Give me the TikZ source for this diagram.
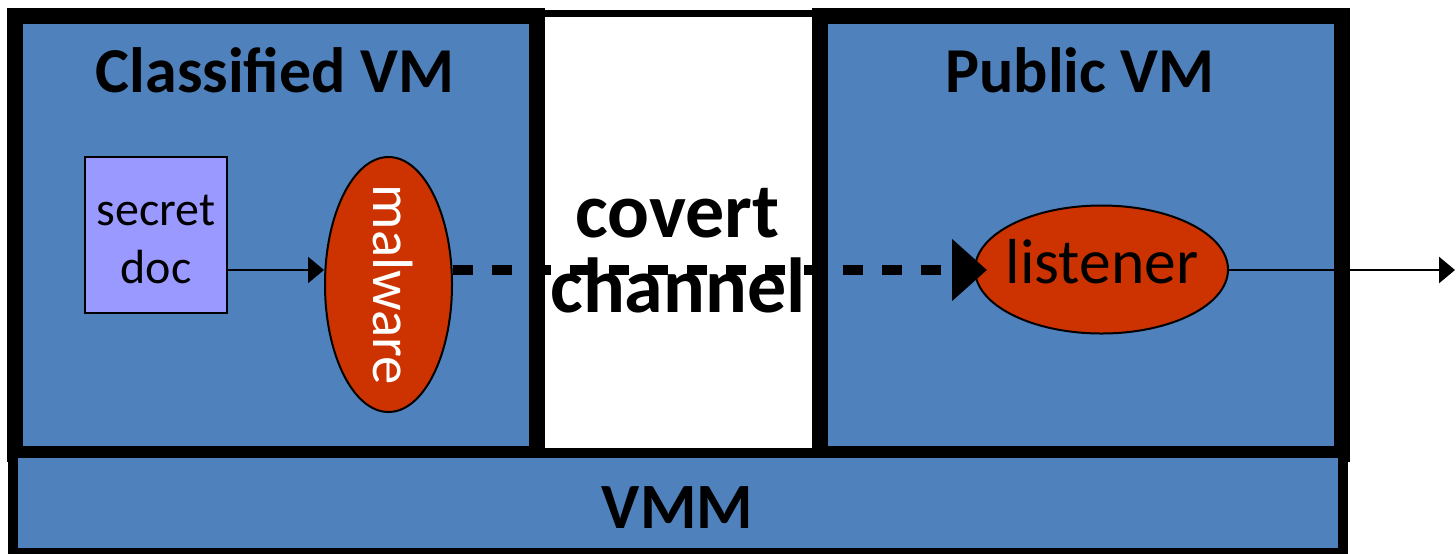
\documentclass[tikz,border=0pt]{standalone}
\usepackage{fontspec}
\setmainfont{Carlito}
\usetikzlibrary{arrows.meta,shapes.geometric}
\definecolor{vmblue}{HTML}{4F81BD}
\definecolor{procred}{HTML}{CC3300}
\definecolor{docviolet}{HTML}{9999FF}
\tikzset{
  vmframe/.style={draw=black, fill=vmblue, line width=8pt, minimum width=261pt,
    minimum height=219pt, inner sep=0pt},
  bigtitle/.style={font=\fontsize{32}{38}\selectfont\bfseries, inner sep=0pt, anchor=base},
  proc/.style={ellipse, draw=black, line width=1pt, fill=procred, inner sep=0pt},
  plainlabel/.style={inner sep=0pt, anchor=base},
  thinarrow/.style={line width=1.3pt, -{Triangle[length=8pt,width=13pt]}},
  covertarrow/.style={line width=5pt, dash pattern=on 10pt off 9.5pt,
    -{Triangle[length=17.5pt,width=30pt]}, shorten >=-6.5pt},
}
\begin{document}
\begin{tikzpicture}[x=0.5pt,y=-0.5pt]
\useasboundingbox (0,0) rectangle (1456,553);

% white gap between the two virtual machines
\node[draw=black, fill=white, line width=3.5pt, minimum width=141.5pt,
      minimum height=220.25pt, inner sep=0pt] (covertbox) at (678.5,233.75) {};

% the two virtual machines
\node[vmframe] (classified) at (276,235) {};
\node[vmframe] (public) at (1081,235) {};

% hypervisor bar underneath
\node[draw=black, fill=vmblue, line width=5pt, minimum width=665pt,
      minimum height=50pt, inner sep=0pt] (vmmbox) at (678,503) {};

% titles
\node[bigtitle] (classtitle) at (275,92) {Classified VM};
\node[bigtitle] (pubtitle) at (1080,92) {Public VM};
\node[bigtitle, font=\fontsize{32.3}{38}\selectfont\bfseries] (vmm) at (677.5,528) {VMM};

% secret document
\node[draw=black, fill=docviolet, line width=1pt, minimum width=71pt,
      minimum height=78pt, inner sep=0pt] (doc) at (156,235) {};
\node[plainlabel, font=\fontsize{24}{29}\selectfont] (secretlbl) at (156,225) {secret};
\node[plainlabel, font=\fontsize{24}{29}\selectfont] (doclbl) at (156,283) {doc};

% processes
\node[proc, minimum width=63.5pt, minimum height=127.5pt] (malware) at (388.5,284.5) {};
\node[plainlabel, font=\fontsize{28.4}{34}\selectfont, text=white, rotate=-90]
      (malwarelbl) at (373,285) {malware};
\node[proc, minimum width=126.5pt, minimum height=64pt] (listener) at (1101.5,269.5) {};
\node[plainlabel, font=\fontsize{31.8}{38}\selectfont] (listenerlbl) at (1102,283) {listener};

% connectors
\coordinate (lvl) at (0,270);
\coordinate (out) at (1455,270);
\draw[thinarrow] (doc.east |- lvl) -- (malware.west |- lvl);
\draw[covertarrow] (malware.east |- lvl) -- (listener.west |- lvl);
\draw[thinarrow] (listener.east |- lvl) -- (out);

% channel label
\node[bigtitle, font=\fontsize{39}{47}\selectfont\bfseries] (covert) at (677.5,237) {covert};
\node[bigtitle, font=\fontsize{39}{47}\selectfont\bfseries] (channel) at (678,312) {channel};
\end{tikzpicture}
\end{document}
